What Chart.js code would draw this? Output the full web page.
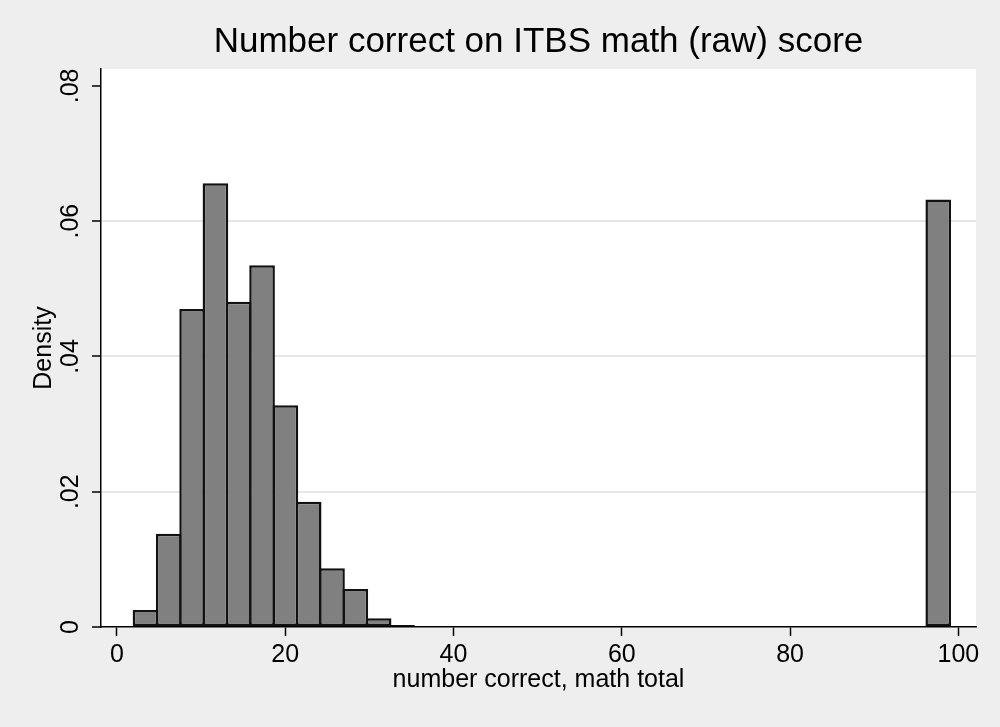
<!DOCTYPE html>
<html lang="en">
<head>
  <meta charset="UTF-8">
  <title>ITBS math histogram</title>
  <script src="https://cdn.jsdelivr.net/npm/chart.js"></script>
  <style>
    body { margin: 0; background: #eeeeee; }
  </style>
</head>
<body>
  <canvas id="myChart" width="1000" height="727"></canvas>

  <script>
    // histogram bins (midpoints), only non-empty bins listed
    const binMid = [3.386, 6.157, 8.929, 11.700, 14.471, 17.243, 20.014, 22.786, 25.557, 28.329, 31.100, 33.871, 97.614];
    const density = [0.0025, 0.0138, 0.0470, 0.0656, 0.0481, 0.0535, 0.0328, 0.0185, 0.0087, 0.0056, 0.0013, 0.0003, 0.0632];

    // axis ticks
    const xTicks = [0, 20, 40, 60, 80, 100];
    const yTicks = [0, 0.02, 0.04, 0.06, 0.08];
    const yTickLabels = ['0', '.02', '.04', '.06', '.08'];

    const FONT = "'Liberation Sans', Arial, sans-serif";

    // grey page, white plot region
    const background = {
      id: 'background',
      beforeDraw(chart) {
        const { ctx, chartArea: a } = chart;
        ctx.save();
        ctx.fillStyle = '#eeeeee';
        ctx.fillRect(0, 0, chart.width, chart.height);
        ctx.fillStyle = '#ffffff';
        ctx.fillRect(a.left, a.top, a.right - a.left, a.bottom - a.top);
        ctx.restore();
      }
    };

    const ctx = document.getElementById('myChart').getContext('2d');
    new Chart(ctx, {
      type: 'bar',
      data: {
        datasets: [{
          data: binMid.map((x, i) => ({ x: x, y: density[i] })),
          backgroundColor: '#808080',
          borderColor: '#111111',
          borderWidth: 2.5,
          borderSkipped: false,
          barPercentage: 1.1,
          categoryPercentage: 1
        }]
      },
      options: {
        responsive: false,
        animation: false,
        layout: { padding: { left: 0, right: 24, top: 0, bottom: 0 } },
        plugins: {
          legend: { display: false },
          tooltip: { enabled: false },
          title: {
            display: true,
            fullSize: false,
            text: 'Number correct on ITBS math (raw) score',
            color: '#000',
            font: { family: FONT, size: 35, weight: 'normal' },
            padding: { top: 21, bottom: 6 }
          }
        },
        scales: {
          x: {
            type: 'linear',
            offset: false,
            min: -1.9,
            max: 102.1,
            afterBuildTicks: s => { s.ticks = xTicks.map(v => ({ value: v })); },
            afterFit: s => { s.height = 100; },
            grid: { offset: false, drawOnChartArea: false, tickLength: 9, tickColor: '#000', tickWidth: 1.5 },
            border: { display: true, color: '#000', width: 1.5 },
            ticks: {
              autoSkip: false,
              maxRotation: 0,
              padding: 4,
              color: '#000',
              font: { family: FONT, size: 25 },
              callback: v => String(v)
            },
            title: {
              display: true,
              text: 'number correct, math total',
              color: '#000',
              font: { family: FONT, size: 25 },
              padding: { top: 0, bottom: 32 }
            }
          },
          y: {
            min: 0,
            max: 0.0825,
            afterBuildTicks: s => { s.ticks = yTicks.map(v => ({ value: v })); },
            afterFit: s => { s.width = 101; },
            grid: {
              color: c => (c.tick && c.tick.value > 0 && c.tick.value < 0.07) ? '#e6e6e6' : 'rgba(0,0,0,0)',
              lineWidth: 2,
              tickLength: 9,
              tickColor: '#000',
              tickWidth: 1.5
            },
            border: { display: true, color: '#000', width: 1.5 },
            ticks: {
              autoSkip: false,
              minRotation: 90,
              maxRotation: 90,
              crossAlign: 'center',
              padding: 4,
              color: '#000',
              font: { family: FONT, size: 25 },
              callback: (v, i) => yTickLabels[i]
            },
            title: {
              display: true,
              text: 'Density',
              color: '#000',
              font: { family: FONT, size: 25 },
              padding: { top: 29, bottom: 0 }
            }
          }
        }
      },
      plugins: [background]
    });
  </script>
</body>
</html>
